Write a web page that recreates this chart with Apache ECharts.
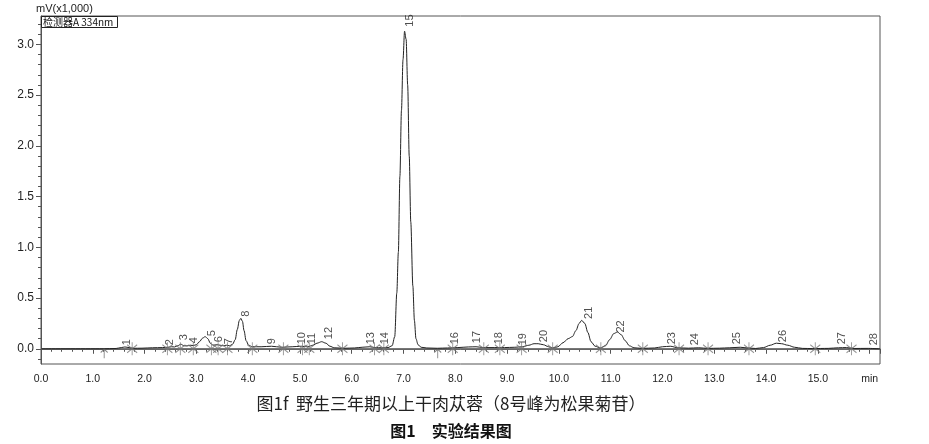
<!DOCTYPE html>
<html><head><meta charset="utf-8">
<script src="https://cdn.jsdelivr.net/npm/echarts@6/dist/echarts.min.js"></script>
<style>html,body{margin:0;padding:0;background:#fff}#c{width:929px;height:444px}</style>
</head><body><div id="c"></div>
<script>
// Chromatogram trace (retention time, min) and signal (mV x1,000)
const traceTime = [0.0,1.2,1.45,1.55,1.62,1.70,1.78,1.95,2.15,2.35,2.45,2.52,2.58,2.64,2.70,2.76,2.82,2.88,2.94,3.00,3.06,3.12,3.17,3.22,3.27,3.32,3.40,3.46,3.52,3.58,3.64,3.70,3.75,3.79,3.83,3.86,3.89,3.92,3.96,4.01,4.08,4.25,4.45,4.65,4.85,5.03,5.15,5.25,5.33,5.42,5.50,5.58,5.66,5.85,6.05,6.20,6.35,6.45,6.58,6.70,6.78,6.83,6.87,6.90,6.93,6.96,6.99,7.02,7.05,7.08,7.11,7.14,7.18,7.21,7.24,7.28,7.34,7.45,7.65,7.85,8.05,8.25,8.40,8.55,8.75,8.95,9.15,9.30,9.42,9.52,9.60,9.70,9.80,9.88,9.98,10.08,10.18,10.26,10.33,10.39,10.44,10.50,10.56,10.62,10.70,10.80,10.90,10.98,11.06,11.13,11.20,11.28,11.36,11.45,11.60,11.85,12.00,12.15,12.30,12.50,12.70,12.88,13.10,13.30,13.50,13.65,13.80,13.95,14.08,14.20,14.30,14.42,14.55,14.70,14.90,15.20,15.40,15.55,15.70,15.95,16.2];
const traceValue = [0.0,0.0,0.003,0.012,0.018,0.012,0.005,0.006,0.010,0.012,0.015,0.020,0.018,0.030,0.045,0.030,0.028,0.035,0.032,0.040,0.070,0.105,0.120,0.100,0.055,0.035,0.040,0.035,0.030,0.035,0.030,0.045,0.090,0.190,0.280,0.300,0.270,0.180,0.080,0.035,0.020,0.020,0.025,0.015,0.020,0.025,0.020,0.035,0.055,0.070,0.055,0.025,0.010,0.005,0.008,0.015,0.020,0.012,0.010,0.012,0.030,0.120,0.550,0.950,1.700,2.350,2.850,3.130,3.050,2.600,1.900,1.250,0.620,0.280,0.100,0.040,0.015,0.008,0.005,0.008,0.012,0.018,0.020,0.012,0.012,0.012,0.015,0.020,0.035,0.050,0.050,0.040,0.020,0.008,0.020,0.060,0.100,0.120,0.180,0.250,0.280,0.250,0.160,0.070,0.025,0.008,0.030,0.090,0.150,0.165,0.140,0.080,0.030,0.010,0.004,0.008,0.020,0.025,0.010,0.006,0.010,0.004,0.006,0.010,0.015,0.008,0.003,0.012,0.035,0.055,0.050,0.035,0.015,0.004,0.002,0.004,0.010,0.012,0.003,0.004,0.0];

// Peak numbers, their retention times and the height where their label starts
const peakNumbers = [1,2,3,4,5,6,7,8,9,10,11,12,13,14,15,16,17,18,19,20,21,22,23,24,25,26,27,28];
const peakTimes = [1.55,2.38,2.66,2.84,3.19,3.33,3.53,3.86,4.35,4.94,5.12,5.45,6.27,6.54,7.02,7.89,8.31,8.73,9.20,9.60,10.47,11.10,12.08,12.53,13.34,14.22,15.35,15.98];
const peakLabelHeights = [0.01,0.01,0.06,0.03,0.10,0.04,0.02,0.29,0.02,0.02,0.02,0.07,0.02,0.02,3.15,0.02,0.03,0.02,0.01,0.04,0.27,0.135,0.02,0.01,0.02,0.04,0.02,0.01];

// Integration boundary markers
const markerTimes = [1.76,2.44,2.69,2.94,3.29,3.42,3.60,4.08,4.68,5.05,5.18,5.82,6.44,6.62,7.95,8.55,8.86,9.28,9.88,10.81,11.62,12.32,12.88,13.67,14.95,15.65];
const arrowTimes = [1.22,7.66];

// Axis ticks
const yTickLabels = [0.0,0.5,1.0,1.5,2.0,2.5,3.0];
const yMinorTicks = [-0.1,0.0,0.1,0.2,0.3,0.4,0.5,0.6,0.7,0.8,0.9,1.0,1.1,1.2,1.3,1.4,1.5,1.6,1.7,1.8,1.9,2.0,2.1,2.2,2.3,2.4,2.5,2.6,2.7,2.8,2.9,3.0,3.1,3.2];
const xUnitLabel = 'min';
const yUnitLabel = 'mV(x1,000)';
const detectorLabel = '检测器A 334nm';
const caption1 = '图1f  野生三年期以上干肉苁蓉（8号峰为松果菊苷）';
const caption2 = '图1　实验结果图';

const FONT = '"Liberation Sans", Arial, sans-serif';
const CJK = '"Noto Sans CJK SC", sans-serif';
const AX = '#555';

const chart = echarts.init(document.getElementById('c'), null, {renderer: 'canvas'});
const traceData = traceTime.map((t, i) => [t, traceValue[i]]);
const peakData = peakTimes.map((t, i) => [t, peakLabelHeights[i], peakNumbers[i]]);

chart.setOption({
  animation: false,
  backgroundColor: '#fff',
  grid: {left: 41, right: 49, top: 16, bottom: 80, show: true, borderColor: AX, borderWidth: 1, backgroundColor: 'transparent'},
  xAxis: {
    type: 'value', min: 0, max: 16.2, interval: 1,
    axisLine: {show: true, lineStyle: {color: AX, width: 1}},
    axisTick: {show: true, length: 5, lineStyle: {color: AX}},
    minorTick: {show: true, splitNumber: 5, length: 3, lineStyle: {color: AX}},
    axisLabel: {color: '#222', fontFamily: FONT, fontSize: 10.5, margin: 10,
      formatter: v => (Math.abs(v - 16) < 1e-6 ? xUnitLabel : v.toFixed(1))},
    splitLine: {show: false}
  },
  yAxis: [{
    type: 'value', min: -0.15, max: 3.28,
    axisLine: {show: true, lineStyle: {color: AX, width: 1}},
    axisTick: {show: true, length: 5, customValues: yTickLabels, lineStyle: {color: AX}},
    axisLabel: {color: '#222', fontFamily: FONT, fontSize: 12, margin: 7, customValues: yTickLabels,
      formatter: v => v.toFixed(1)},
    splitLine: {show: false}
  }, {
    type: 'value', min: -0.15, max: 3.28, position: 'left',
    axisLine: {show: false},
    axisTick: {show: true, length: 3, customValues: yMinorTicks, lineStyle: {color: AX}},
    axisLabel: {show: false},
    splitLine: {show: false}
  }],
  series: [
    {
      type: 'line', data: [[0, 0], [16.2, 0]], showSymbol: false, symbol: 'none', z: 1,
      lineStyle: {color: '#777', width: 1.5}, silent: true
    },
    {
      type: 'line', data: traceData, showSymbol: false, symbol: 'none', z: 3,
      smooth: 0.3, smoothMonotone: 'x',
      lineStyle: {color: '#222', width: 1}, silent: true
    },
    {
      type: 'scatter', data: markerTimes.map(t => [t, 0]), z: 4, silent: true,
      symbol: 'path://M6,0L6,16M1,3L11,13M11,3L1,13', symbolSize: [10, 13],
      itemStyle: {color: 'rgba(0,0,0,0)', borderColor: '#777', borderWidth: 1}
    },
    {
      type: 'scatter', data: arrowTimes.map(t => [t, 0]), z: 4, silent: true,
      symbol: 'path://M5,0L5,14M1,5L5,0L9,5', symbolSize: [7, 9], symbolOffset: [0, 5],
      itemStyle: {color: 'rgba(0,0,0,0)', borderColor: '#666', borderWidth: 1}
    },
    {
      type: 'scatter', data: peakData, z: 5, silent: true,
      symbol: 'circle', symbolSize: 1, itemStyle: {color: 'rgba(0,0,0,0)'},
      label: {
        show: true, position: [6, -2], rotate: 90, align: 'left', verticalAlign: 'middle',
        formatter: p => String(p.value[2]), color: '#222', fontFamily: FONT, fontSize: 11
      }
    }
  ],
  graphic: [
    {type: 'text', x: 36, y: 9, style: {text: yUnitLabel, fill: '#222', font: '11px ' + FONT, verticalAlign: 'middle'}},
    {type: 'rect', shape: {x: 41.5, y: 16.5, width: 76, height: 11}, style: {fill: '#fff', stroke: '#222', lineWidth: 1}, z: 10},
    {type: 'text', x: 43, y: 22.5, z: 11, style: {text: detectorLabel, fill: '#111', font: '10px ' + CJK, verticalAlign: 'middle'}},
    {type: 'text', x: 451, y: 404, style: {text: caption1, fill: '#222', font: '17px ' + CJK, align: 'center', verticalAlign: 'middle'}},
    {type: 'text', x: 451, y: 431, style: {text: caption2, fill: '#111', font: 'bold 16px ' + CJK, align: 'center', verticalAlign: 'middle'}}
  ]
});
</script></body></html>
